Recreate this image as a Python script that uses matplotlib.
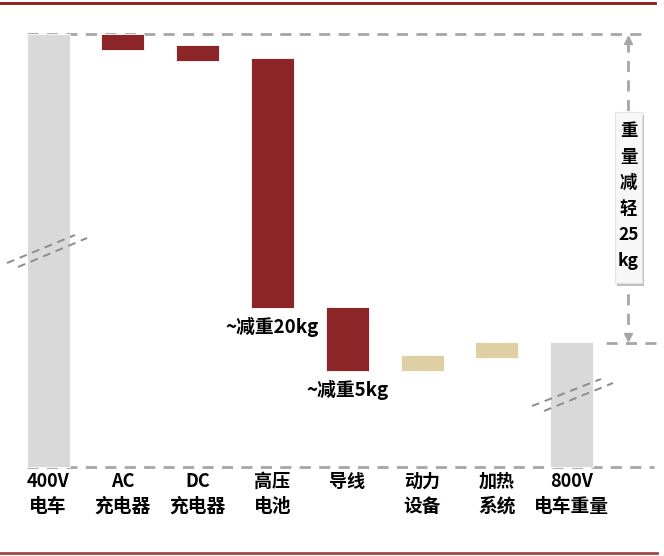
import matplotlib
matplotlib.use("Agg")
import matplotlib.pyplot as plt
from matplotlib.lines import Line2D
from matplotlib.patches import Rectangle

plt.rcParams['font.family'] = ['Noto Sans CJK SC', 'DejaVu Sans']

# 数据（单位：kg，以 400V 车重为 0）
line1 = ["400V", "AC", "DC", "高压", "导线", "动力", "加热", "800V"]
line2 = ["电车", "充电器", "充电器", "电池", "", "设备", "系统", "电车重量"]
bar_top = [0, 0, -0.9, -1.95, -22.1, -26.0, -24.9, -24.9]
bar_bottom = [-35, -1.3, -2.2, -22.2, -27.3, -27.3, -26.2, -35]
kinds = ["total", "down", "down", "down", "down", "up", "up", "total"]
notes = {3: "~减重20kg", 4: "~减重5kg"}
saving_text = ["重", "量", "减", "轻", "25", "kg"]
saving = 25

colors = {"total": "#D9D9D9", "down": "#8B2527", "up": "#DFCFA5"}
dash_c = "#A6A6A6"
W, H = 664, 556

fig = plt.figure(figsize=(W / 100, H / 100), dpi=100)
ax = fig.add_axes([0, 0, 1, 1])
ax.set_xlim(-0.642, 8.235)
ax.set_ylim(-42.23, 2.75)
ax.axis("off")

x = list(range(len(line1)))
for i in x:
    ax.bar(i, bar_top[i] - bar_bottom[i], bottom=bar_bottom[i], width=0.575,
           color=colors[kinds[i]], edgecolor="white", linewidth=0.6, zorder=2)

# 虚线参考线
ax.plot([-0.28, 8.0], [0, 0], ls=(0, (4, 3)), color=dash_c, lw=2, zorder=1)
ax.plot([-0.28, 8.1], [bar_bottom[0], bar_bottom[0]], ls=(0, (4, 3)), color=dash_c, lw=2, zorder=1)
ax.plot([7.46, 8.3], [-saving, -saving], ls=(0, (4, 3)), color=dash_c, lw=2, zorder=1)

# 双向箭头
xa = 7.754
ax.plot([xa, xa], [-0.6, -saving + 0.6], ls=(0, (4, 3)), color=dash_c, lw=2, zorder=1)
ax.plot(xa, -0.45, marker="^", color=dash_c, ms=6, zorder=3)
ax.plot(xa, -saving + 0.45, marker="v", color=dash_c, ms=6, zorder=3)

# 文字框
fig.add_artist(Rectangle((617 / W, 1 - 286 / H), 27 / W, 171 / H, transform=fig.transFigure,
                         facecolor="#BFBFBF", edgecolor="none", zorder=4))
fig.add_artist(Rectangle((615 / W, 1 - 283 / H), 27 / W, 171 / H, transform=fig.transFigure,
                         facecolor="#F7F7F7", edgecolor="#E3E3E3", lw=0.8, zorder=5))
for k, t in enumerate(saving_text):
    fig.text(628.5 / W, 1 - (131 + 26 * k) / H, t, ha="center", va="center",
             fontsize=12.5, fontweight="bold", color="black", zorder=6)

# 标注
for i, t in notes.items():
    ax.text(i, bar_bottom[i] - 1.5, t, ha="center", va="center", fontsize=13.5,
            fontweight="bold", color="black", zorder=3)

# 分类标签
for i in x:
    ax.text(i, -36.2, line1[i], ha="center", va="center", fontsize=13, fontweight="bold")
    ax.text(i, -38.2, line2[i], ha="center", va="center", fontsize=13.5, fontweight="bold")

# 断轴标记
for (x0, y0, x1, y1) in [(7, 263, 75, 235), (18, 267, 87, 238),
                         (532, 406, 601, 379), (544, 411, 613, 383)]:
    fig.add_artist(Line2D([x0 / W, x1 / W], [1 - y0 / H, 1 - y1 / H], transform=fig.transFigure,
                          ls=(0, (4, 3)), color="#8C8C8C", lw=1.4, zorder=4))

# 上下红色边线
fig.add_artist(Line2D([0, 655 / W], [1 - 3 / H, 1 - 3 / H], transform=fig.transFigure,
                      color="#8B1A1A", lw=2))
fig.add_artist(Line2D([0, 657 / W], [1 - 553 / H, 1 - 553 / H], transform=fig.transFigure,
                      color="#9E4A4A", lw=2))

fig.savefig("out.png", dpi=100)
